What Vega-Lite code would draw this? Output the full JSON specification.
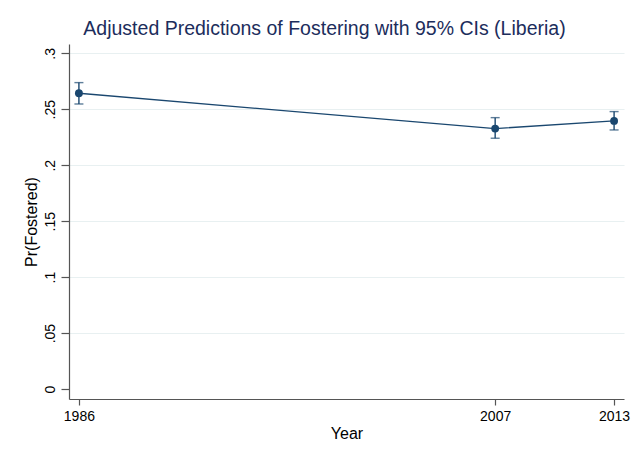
{
  "$schema": "https://vega.github.io/schema/vega-lite/v6.json",
  "width": 555,
  "height": 355,
  "autosize": {"type": "none"},
  "padding": {"left": 69, "top": 44, "right": 15, "bottom": 67},
  "background": "white",
  "title": {
    "text": "Adjusted Predictions of Fostering with 95% CIs (Liberia)",
    "anchor": "middle",
    "dx": -22,
    "offset": 5,
    "fontSize": 19.5,
    "font": "Liberation Sans",
    "fontWeight": "normal",
    "color": "#1c2d5c"
  },
  "data": {
    "values": [
      {"year": 1986, "pr": 0.2643, "lo": 0.2547, "hi": 0.2738},
      {"year": 2007, "pr": 0.2327, "lo": 0.2241, "hi": 0.2425},
      {"year": 2013, "pr": 0.2396, "lo": 0.2315, "hi": 0.2479}
    ]
  },
  "encoding": {
    "x": {
      "field": "year",
      "type": "quantitative",
      "title": "Year",
      "scale": {"domain": [1985.5, 2013.5], "nice": false, "zero": false},
      "axis": {
        "values": [1986, 2007, 2013],
        "format": "d",
        "grid": false,
        "tickSize": 6,
        "labelPadding": 4,
        "titlePadding": 2
      }
    }
  },
  "layer": [
    {
      "mark": {"type": "line", "color": "#1a476f", "strokeWidth": 1.3},
      "encoding": {
        "y": {
          "field": "pr",
          "type": "quantitative",
          "title": "Pr(Fostered)",
          "scale": {"domain": [-0.0089, 0.3083], "nice": false, "zero": false},
          "axis": {
            "values": [0, 0.05, 0.1, 0.15, 0.2, 0.25, 0.3],
            "labelExpr": "datum.value == 0 ? '0' : slice(format(datum.value, '.2~f'), 1)",
            "labelAngle": -90,
            "labelAlign": "center",
            "labelBaseline": "bottom",
            "tickSize": 8,
            "labelPadding": 4,
            "titlePadding": 4,
            "grid": true,
            "gridColor": {"condition": {"test": "datum.value == 0", "value": "transparent"}, "value": "#e8f0f1"},
            "gridWidth": 1.2
          }
        }
      }
    },
    {
      "mark": {
        "type": "errorbar",
        "color": "#1a476f",
        "thickness": 1.4,
        "ticks": {"size": 9, "thickness": 1.4, "color": "#1a476f"}
      },
      "encoding": {
        "y": {"field": "lo", "type": "quantitative", "title": "Pr(Fostered)"},
        "y2": {"field": "hi"}
      }
    },
    {
      "mark": {"type": "point", "filled": true, "shape": "circle", "size": 62, "color": "#1a476f", "opacity": 1},
      "encoding": {
        "y": {"field": "pr", "type": "quantitative", "title": "Pr(Fostered)"}
      }
    }
  ],
  "config": {
    "font": "Liberation Sans",
    "view": {"stroke": null},
    "axis": {
      "labelFont": "Liberation Sans",
      "titleFont": "Liberation Sans",
      "labelFontSize": 14,
      "titleFontSize": 16,
      "titleFontWeight": "normal",
      "labelColor": "#000000",
      "titleColor": "#000000",
      "domainColor": "#555555",
      "domainWidth": 1.2,
      "tickColor": "#555555",
      "tickWidth": 1.2
    }
  }
}
